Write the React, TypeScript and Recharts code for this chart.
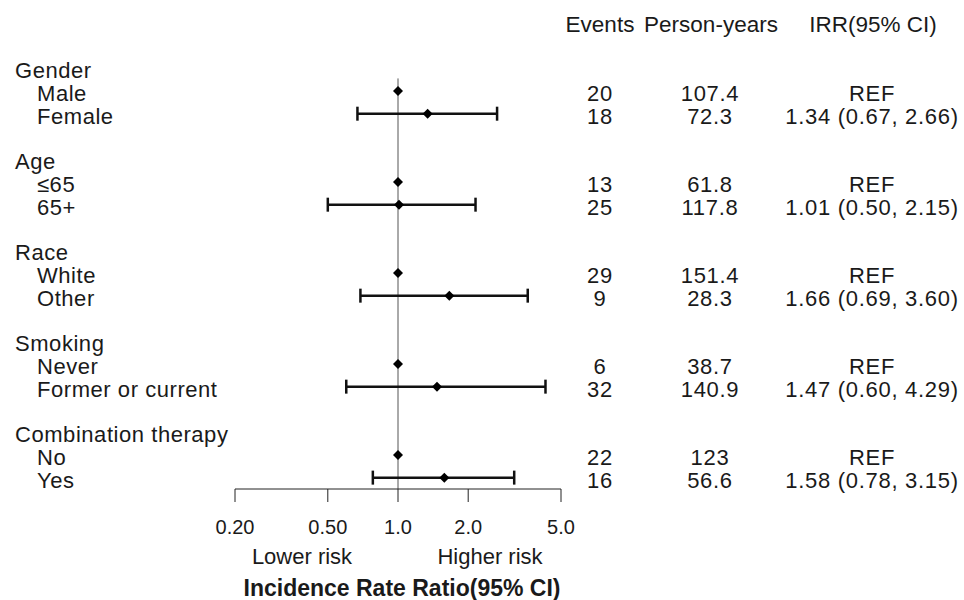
import React from 'react';
import {
  ScatterChart,
  Scatter,
  XAxis,
  YAxis,
  ErrorBar,
  ReferenceLine,
} from 'recharts';

// forest plot of incidence rate ratios by subgroup
const groups = ['Gender', 'Age', 'Race', 'Smoking', 'Combination therapy'];
const levels = [
  ['Male', 'Female'],
  ['≤65', '65+'],
  ['White', 'Other'],
  ['Never', 'Former or current'],
  ['No', 'Yes'],
];
const events = [[20, 18], [13, 25], [29, 9], [6, 32], [22, 16]];
const personYears = [
  ['107.4', '72.3'],
  ['61.8', '117.8'],
  ['151.4', '28.3'],
  ['38.7', '140.9'],
  ['123', '56.6'],
];
const irr = [1.34, 1.01, 1.66, 1.47, 1.58];
const ciLow = [0.67, 0.5, 0.69, 0.6, 0.78];
const ciHigh = [2.66, 2.15, 3.6, 4.29, 3.15];

const xTicks = [0.2, 0.5, 1, 2, 5];
const xTickLabels = ['0.20', '0.50', '1.0', '2.0', '5.0'];
const headers = ['Events', 'Person-years', 'IRR(95% CI)'];

type Row = { label: string; group: boolean; events?: string; py?: string; irr?: string };

// build the row table: group header, two levels, blank spacer
const rows: Row[] = [];
groups.forEach((g, i) => {
  rows.push({ label: g, group: true });
  levels[i].forEach((lv, j) => {
    rows.push({
      label: lv,
      group: false,
      events: String(events[i][j]),
      py: personYears[i][j],
      irr: j === 0 ? 'REF' : `${irr[i].toFixed(2)} (${ciLow[i].toFixed(2)}, ${ciHigh[i].toFixed(2)})`,
    });
  });
  if (i < groups.length - 1) rows.push({ label: '', group: false });
});
const rowTicks = rows.map((_, i) => i);

const refPoints = groups.map((_, i) => ({ x: 1, y: i * 4 + 1 }));
const estPoints = groups.map((_, i) => ({
  x: irr[i],
  y: i * 4 + 2,
  err: [irr[i] - ciLow[i], ciHigh[i] - irr[i]],
}));

const FONT = '"Liberation Sans", Arial, sans-serif';
const TEXT = '#1a1a1a';

const Diamond = (props: any) => {
  const { cx, cy } = props;
  const r = 5;
  return (
    <polygon
      points={`${cx - r},${cy} ${cx},${cy - r} ${cx + r},${cy} ${cx},${cy + r}`}
      fill="#000"
    />
  );
};

const LeftTick = (props: any) => {
  const { y, payload } = props;
  const row = rows[payload.value];
  if (!row || !row.label) return null;
  return (
    <text
      x={row.group ? 15 : 37}
      y={y + 2.5}
      dominantBaseline="central"
      fontSize={22}
      letterSpacing={0.55}
      fontFamily={FONT}
      fill={TEXT}
    >
      {row.label}
    </text>
  );
};

const RightTick = (props: any) => {
  const { y, payload } = props;
  const row = rows[payload.value];
  if (!row || row.events === undefined) return null;
  const common = {
    y: y + 2.5,
    dominantBaseline: 'central' as const,
    fontSize: 22,
    letterSpacing: 0.7,
    fontFamily: FONT,
    fill: TEXT,
    textAnchor: 'middle' as const,
  };
  return (
    <g>
      <text x={600} {...common}>{row.events}</text>
      <text x={710} {...common}>{row.py}</text>
      <text x={872} {...common}>{row.irr}</text>
    </g>
  );
};

export default function App() {
  return (
    <div style={{ position: 'absolute', left: 0, top: 0, width: 964, height: 600, background: '#fff' }}>
      <ScatterChart
        width={964}
        height={600}
        margin={{ top: 68.2, right: 0, bottom: 0, left: 0 }}
      >
        <XAxis
          type="number"
          dataKey="x"
          scale="log"
          domain={[0.2, 5]}
          ticks={xTicks}
          interval={0}
          tickFormatter={(v: number) => xTickLabels[xTicks.indexOf(v)] ?? String(v)}
          height={111}
          tickSize={13}
          tickMargin={18}
          stroke="#222"
          tick={{ fontSize: 20, fontFamily: FONT, fill: TEXT }}
        />
        <YAxis
          yAxisId="left"
          type="number"
          dataKey="y"
          domain={[0, 18.5]}
          reversed
          ticks={rowTicks}
          interval={0}
          width={235}
          axisLine={false}
          tickLine={false}
          tick={<LeftTick />}
        />
        <YAxis
          yAxisId="right"
          orientation="right"
          type="number"
          dataKey="y"
          domain={[0, 18.5]}
          reversed
          ticks={rowTicks}
          interval={0}
          width={403}
          axisLine={false}
          tickLine={false}
          tick={<RightTick />}
        />
        <ReferenceLine
          yAxisId="left"
          segment={[{ x: 1, y: 0.45 }, { x: 1, y: 18.5 }]}
          stroke="#555"
          strokeWidth={1}
          ifOverflow="visible"
        />
        <Scatter
          yAxisId="left"
          data={refPoints}
          shape={<Diamond />}
          isAnimationActive={false}
        />
        <Scatter
          yAxisId="right"
          data={estPoints}
          shape={<Diamond />}
          isAnimationActive={false}
        >
          <ErrorBar dataKey="err" direction="x" width={7} strokeWidth={2.5} stroke="#111" />
        </Scatter>
      </ScatterChart>
      <svg
        width={964}
        height={600}
        style={{ position: 'absolute', left: 0, top: 0, pointerEvents: 'none' }}
      >
        <g fontFamily={FONT} fill={TEXT} textAnchor="middle" dominantBaseline="central">
          <text x={600} y={24} fontSize={22.5}>{headers[0]}</text>
          <text x={711} y={24} fontSize={22.5}>{headers[1]}</text>
          <text x={873} y={24} fontSize={22.5}>{headers[2]}</text>
          <text x={302} y={556} fontSize={22}>Lower risk</text>
          <text x={490} y={556} fontSize={22}>Higher risk</text>
          <text x={402} y={588} fontSize={23} fontWeight="bold">Incidence Rate Ratio(95% CI)</text>
        </g>
      </svg>
    </div>
  );
}
